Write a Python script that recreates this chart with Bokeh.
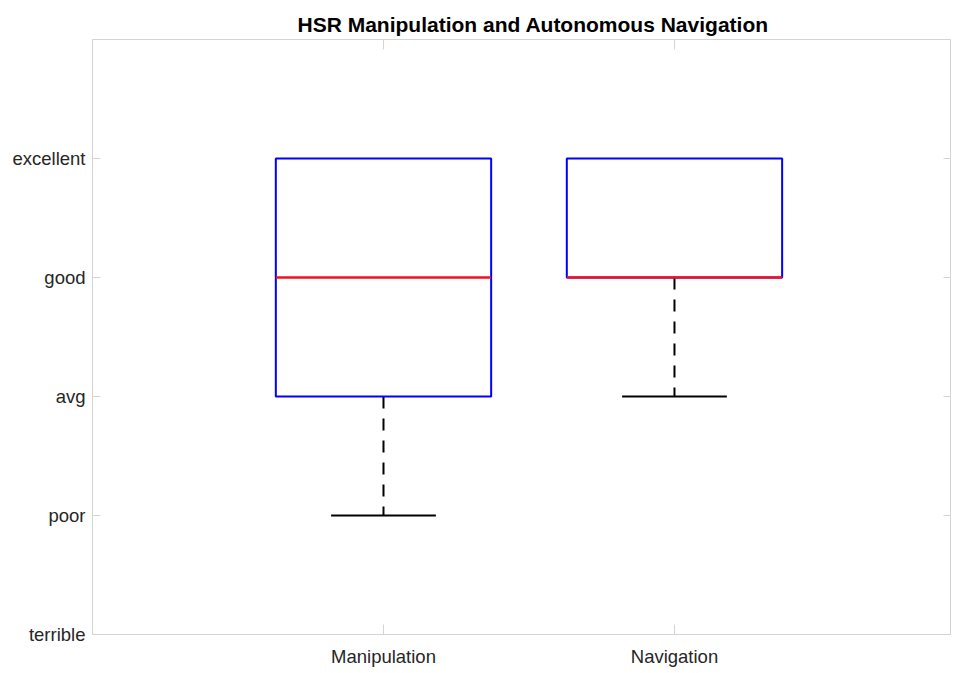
import math
from bokeh.plotting import figure
from bokeh.models import Range1d, FixedTicker, ColumnDataSource
from bokeh.embed import file_html
from bokeh.resources import INLINE

# ---- data ----
categories = ["Manipulation", "Navigation"]
positions = [1, 2]
q1 = [3, 4]
median = [4, 4]
q3 = [5, 5]
lower_whisker = [2, 3]
upper_whisker = [5, 5]
rating_values = [1, 2, 3, 4, 5]
rating_labels = ["terrible", "poor", "avg", "good", "excellent"]
box_half = 0.37
cap_half = 0.18
x_min, x_max = 0, 2.952
y_min, y_max = 1, 6

FONT = "Liberation Sans"
GRAY = "#d4d4d4"
LABEL = "#262626"

src = ColumnDataSource(dict(
    pos=positions,
    left=[p - box_half for p in positions],
    right=[p + box_half for p in positions],
    cap_l=[p - cap_half for p in positions],
    cap_r=[p + cap_half for p in positions],
    q1=q1, med=median, q3=q3, lo=lower_whisker, hi=upper_whisker,
))

p = figure(width=951, height=669, x_range=Range1d(x_min, x_max), y_range=Range1d(y_min, y_max),
           output_backend="svg", toolbar_location=None,
           min_border_left=92, min_border_right=0, min_border_top=39, min_border_bottom=35)

p.title.text = "HSR Manipulation and Autonomous Navigation"
p.title.text_font = FONT
p.title.text_font_size = "21px"
p.title.text_font_style = "bold"
p.title.text_color = "#000000"
p.title.align = "left"
p.title.offset = 205
p.title.standoff = 7

p.xgrid.visible = False
p.ygrid.visible = False
p.outline_line_color = GRAY
p.background_fill_color = "white"
p.border_fill_color = "white"

# bottom axis
xa = p.xaxis[0]
xa.ticker = FixedTicker(ticks=positions)
xa.major_label_overrides = {pos: c for pos, c in zip(positions, categories)}
xa.major_label_text_font = FONT
xa.major_label_text_font_size = "18.5px"
xa.major_label_text_color = LABEL
xa.major_label_standoff = 11
xa.major_tick_in = 10
xa.major_tick_out = 0
xa.minor_tick_line_color = None
xa.axis_line_color = GRAY
xa.major_tick_line_color = GRAY

# left axis
ya = p.yaxis[0]
ya.ticker = FixedTicker(ticks=rating_values)
ya.major_label_overrides = {v: l for v, l in zip(rating_values, rating_labels)}
ya.major_label_text_font = FONT
ya.major_label_text_font_size = "18.5px"
ya.major_label_text_color = LABEL
ya.major_label_standoff = 7
ya.major_tick_in = 8
ya.major_tick_out = 0
ya.minor_tick_line_color = None
ya.axis_line_color = GRAY
ya.major_tick_line_color = GRAY

# top and right tick marks (inside the frame)
p.scatter(x=positions, y=[y_max] * len(positions), marker="dash", size=20,
          angle=math.pi / 2, line_color=GRAY, line_width=1)
p.scatter(x=[x_max] * len(rating_values), y=rating_values, marker="dash", size=16,
          line_color=GRAY, line_width=1)

# lower whiskers (upper whiskers coincide with the box top, so they are hidden)
p.segment(x0="pos", y0="q1", x1="pos", y1="lo", source=src, line_color="black",
          line_width=2, line_dash="12 10")
# lower caps
p.segment(x0="cap_l", y0="lo", x1="cap_r", y1="lo", source=src, line_color="black", line_width=2)
# boxes
p.quad(left="left", right="right", bottom="q1", top="q3", source=src,
       fill_color=None, line_color="#0000ff", line_width=2)
# medians
p.segment(x0="left", y0="med", x1="right", y1="med", source=src, line_color="#f01020",
          line_width=2.6)

open("out.html", "w").write(file_html(p, INLINE))
